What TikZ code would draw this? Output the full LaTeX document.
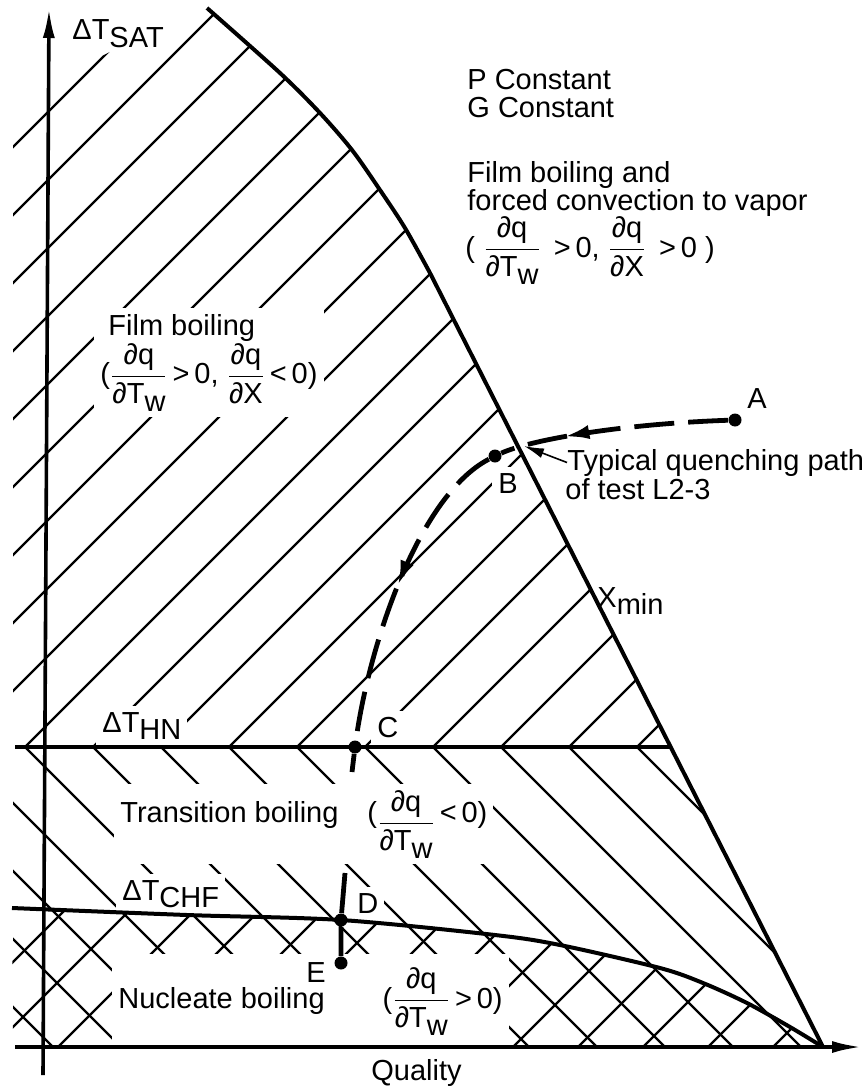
\documentclass[tikz,border=0pt]{standalone}
\usepackage{fontspec}
\setmainfont{Liberation Sans}
\usetikzlibrary{arrows.meta,positioning,decorations.markings}
\tikzset{
  axis/.style = {line width=1.8pt, -{Latex[length=15pt,width=6pt]}},
  border/.style = {line width=2pt},
  hatch/.style = {line width=1.1pt},
  qpath/.style = {line width=2.4pt, dash pattern=on 20pt off 7pt},
  pt/.style = {circle, fill, inner sep=0pt, minimum size=6.5pt},
  lbl/.style = {font=\fontsize{14.5}{14}\selectfont, inner sep=0pt},
  lblw/.style = {lbl, fill=white, inner sep=3pt},
  midarrow/.style = {postaction={decorate}, decoration={markings,
      mark=at position #1 with {\arrow{Latex[length=13pt,width=7pt]}}}}
}
\newcommand\pq[2]{$\displaystyle\frac{\mbox{#1}}{\mbox{#2}}$}
\newcommand\dnx[1]{\raisebox{-0.5ex}{#1}}

\begin{document}
\begin{tikzpicture}[x=0.5pt, y=-0.5pt]
  \useasboundingbox (0,0) rectangle (863,1086);

  % film boiling hatching
  \begin{scope}
    \clip (13,747) -- (13,100) -- (110,52) -- plot[smooth] coordinates {(207,8) (280,73) (320,113) (352,150) (380,190) (405,228) (430,273)} -- (671,747) -- cycle;
    \foreach \j in {0,...,19}
      \draw[hatch] ({1384-68*\j-1100},1100) -- ({1384-68*\j+100},-100);
  \end{scope}
  % transition and nucleate boiling hatching
  \begin{scope}
    \clip (13,747) -- (671,747) -- (823,1047) -- (13,1047) -- cycle;
    \foreach \j in {0,...,13}
      \draw[hatch] (-100,{110+68*\j-100}) -- (1000,{110+68*\j+1000});
  \end{scope}
  \begin{scope}
    \clip plot[smooth] coordinates {(12,908) (187,915) (341,920) (495,935) (560,945) (660,968) (703,983) (747,1003) (790,1027) (823,1047)} -- (13,1047) -- cycle;
    \foreach \m in {0,...,13}
      \draw[hatch] ({975+65*\m-1100},1100) -- ({975+65*\m+100},-100);
  \end{scope}

  % labels
  \node[lbl, anchor=base west] (sat) at (72,40) {ΔT\dnx{SAT}};
  \node[lbl, anchor=base west] (pc) at (467,90) {P Constant};
  \node[lbl, anchor=base west] (gc) at (467,118) {G Constant};
  \node[lbl, anchor=base west] (fv1) at (467,182) {Film boiling and};
  \node[lbl, anchor=base west] (fv2) at (467,210) {forced convection to vapor};
  \node[lbl, anchor=base west] (fv3) at (465,257) {( \pq{∂q}{∂T\dnx{w}} \,>\,0,\ \pq{∂q}{∂X} \,>\,0 )};
  \node[lblw, anchor=north west, align=left] (film) at (94,308) {\ Film boiling\\(\pq{∂q}{∂T\dnx{w}}\,>\,0,\ \pq{∂q}{∂X}\,<\,0)};
  \node[lbl, anchor=base west] (la) at (747,408) {A};
  \node[lbl, anchor=base west] (typ) at (567,470) {Typical quenching path};
  \node[lbl, anchor=base west] (typb) at (565,499) {of test L2-3};
  \node[lblw, anchor=base west] (lb) at (492,493) {B};
  \node[lbl, anchor=base west] (xmin) at (597,607) {X\dnx{min}};
  \node[lblw, anchor=base west] (hn) at (96,732) {ΔT\dnx{HN}};
  \node[lblw, anchor=base west] (lc) at (371,737) {C};
  \node[lblw, anchor=base west] (trans) at (114,822) {Transition boiling\quad(\raisebox{-0.3em}{\pq{∂q}{∂T\dnx{w}}}\,<\,0)};
  \node[lblw, anchor=base west] (chf) at (116,900) {ΔT\dnx{CHF}};
  \node[lblw, anchor=base west] (ld) at (351,913) {D};
  \node[lblw, inner ysep=7pt, anchor=base west] (nuc) at (112,1008) {Nucleate boiling\qquad(\pq{∂q}{∂T\dnx{w}}\,>\,0)};
  \node[lblw, anchor=base west] (le) at (300,982) {E};
  \node[lbl, anchor=base west] (qual) at (371,1080) {Quality};

  % axes and boundaries
  \coordinate (O) at (43,1075);
  \coordinate (ytip) at (49,8);
  \coordinate (xs) at (15,1047);
  \coordinate (xtip) at (862,1047);
  \draw[axis] (O) -- (ytip);
  \draw[axis] (xs) -- (xtip);
  \coordinate (hn0) at (15,747);
  \coordinate (hn1) at (671,747);
  \draw[border] (hn0) -- (hn1);
  \draw[border] plot[smooth] coordinates {(207,8) (280,73) (320,113) (352,150) (380,190) (405,228) (430,273)} -- (823,1047);
  \draw[border] plot[smooth] coordinates {(12,908) (187,915) (341,920) (495,935) (560,945) (660,968) (703,983) (747,1003) (790,1027) (823,1047)};

  % quenching path
  \node[pt] (A) at (735,420) {};
  \node[pt] (B) at (495,456) {};
  \node[pt] (C) at (355,747) {};
  \node[pt] (D) at (341,920) {};
  \node[pt] (E) at (341,963) {};
  \coordinate (Cend) at (352,772);
  \coordinate (Dtop) at (345,873);
  \coordinate (xb) at (524,446);
  \draw[qpath, midarrow=0.72] (A) .. controls (620,424) and (530,440) .. (B);
  \draw[qpath, midarrow=0.5] (B) .. controls (420,495) and (370,640) .. (C);
  \draw[qpath] (C) -- (Cend);
  \draw[line width=2.4pt] (Dtop) -- (D) -- (E);
  \draw[line width=0.8pt, -{Latex[length=10pt,width=5pt]}] (typ.west) -- (xb);
\end{tikzpicture}
\end{document}
